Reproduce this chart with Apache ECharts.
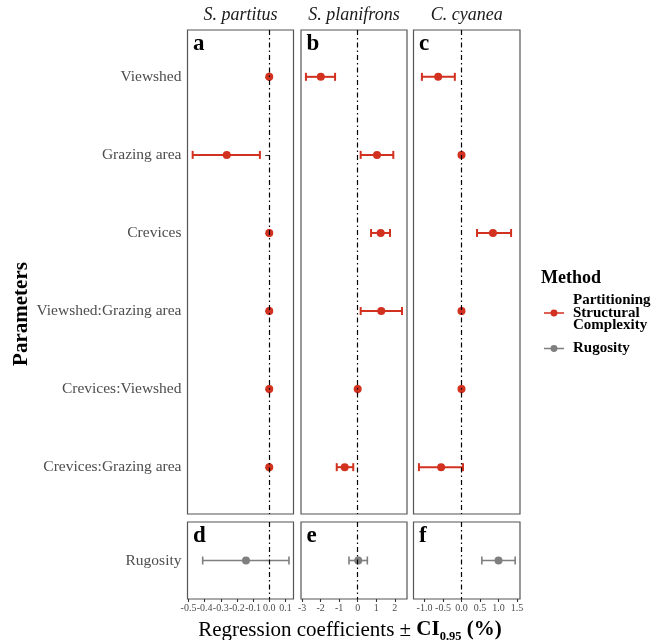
<!DOCTYPE html>
<html><head><meta charset="utf-8">
<script src="https://cdn.jsdelivr.net/npm/echarts@6/dist/echarts.min.js"></script>
<style>html,body{margin:0;padding:0;background:#fff}#c{width:655px;height:640px}</style>
</head><body><div id="c"></div>
<script>
const panelTitles = ['S. partitus', 'S. planifrons', 'C. cyanea'];
const panelLetters = [['a', 'b', 'c'], ['d', 'e', 'f']];
const parameters = ['Viewshed', 'Grazing area', 'Crevices', 'Viewshed:Grazing area', 'Crevices:Viewshed', 'Crevices:Grazing area'];
const paramIndex = [1, 2, 3, 4, 5, 6];

const partitusEst  = [0.000, -0.263, 0.000, 0.000, 0.000, 0.000];
const partitusLow  = [-0.002, -0.474, -0.002, -0.002, -0.002, -0.002];
const partitusHigh = [0.002, -0.058, 0.002, 0.002, 0.002, 0.002];

const planifronsEst  = [-1.99, 1.04, 1.24, 1.27, 0.00, -0.70];
const planifronsLow  = [-2.79, 0.16, 0.72, 0.16, -0.02, -1.13];
const planifronsHigh = [-1.22, 1.92, 1.74, 2.39, 0.02, -0.24];

const cyaneaEst  = [-0.63, 0.00, 0.85, 0.00, 0.00, -0.55];
const cyaneaLow  = [-1.07, -0.01, 0.42, -0.01, -0.01, -1.15];
const cyaneaHigh = [-0.18, 0.01, 1.34, 0.01, 0.01, 0.04];

const rugosityLabel = ['Rugosity'];
const rugosityEst  = [-0.144, 0.03, 1.00];
const rugosityLow  = [-0.412, -0.47, 0.55];
const rugosityHigh = [0.122, 0.52, 1.45];

const xTicks = [[-0.5, -0.4, -0.3, -0.2, -0.1, 0, 0.1], [-3, -2, -1, 0, 1, 2], [-1, -0.5, 0, 0.5, 1, 1.5]];
const xTickDecimals = [1, 0, 1];
const xRanges = [[-0.506, 0.150], [-3.057, 2.658], [-1.297, 1.581]];

const methodNames = ['Partitioning\nStructural\nComplexity', 'Rugosity'];
const RED = '#D3311F', GREY = '#7F7F7F';
const FONT = "'Liberation Serif', 'DejaVu Serif', serif";

const topEst = [partitusEst, planifronsEst, cyaneaEst];
const topLow = [partitusLow, planifronsLow, cyaneaLow];
const topHigh = [partitusHigh, planifronsHigh, cyaneaHigh];

const colLeft = [187.5, 301, 413.5];
const colWidth = [106, 106, 106.5];
const rowTop = [30, 522];
const rowHeight = [484, 77];

function errRender(color, lw) {
  return function (params, api) {
    const y = api.value(0), lo = api.value(1), hi = api.value(2);
    const p1 = api.coord([lo, y]), p2 = api.coord([hi, y]);
    const h = 4;
    const st = { stroke: color, lineWidth: lw };
    return { type: 'group', children: [
      { type: 'line', shape: { x1: p1[0], y1: p1[1], x2: p2[0], y2: p2[1] }, style: st },
      { type: 'line', shape: { x1: p1[0], y1: p1[1] - h, x2: p1[0], y2: p1[1] + h }, style: st },
      { type: 'line', shape: { x1: p2[0], y1: p2[1] - h, x2: p2[0], y2: p2[1] + h }, style: st }
    ] };
  };
}

const grid = [], xAxis = [], yAxis = [], series = [];
for (let r = 0; r < 2; r++) {
  for (let c = 0; c < 3; c++) {
    const idx = r * 3 + c;
    grid.push({ left: colLeft[c], width: colWidth[c], top: rowTop[r], height: rowHeight[r],
      show: true, borderColor: '#555', borderWidth: 1.2, backgroundColor: '#fff' });
    xAxis.push({
      type: 'value', gridIndex: idx, min: xRanges[c][0], max: xRanges[c][1], show: r === 1,
      axisLine: { show: false }, splitLine: { show: false },
      axisTick: { show: true, length: 3, customValues: xTicks[c], lineStyle: { color: '#333', width: 1.1 } },
      axisLabel: { customValues: xTicks[c], formatter: v => v.toFixed(xTickDecimals[c]),
        fontFamily: FONT, fontSize: 10, color: '#4d4d4d', margin: 4 }
    });
    const yVals = r === 0 ? paramIndex : [1];
    const yNames = r === 0 ? parameters : rugosityLabel;
    yAxis.push({
      type: 'value', gridIndex: idx, inverse: true, min: 0.4, max: r === 0 ? 6.6 : 1.6,
      show: c === 0, axisLine: { show: false }, splitLine: { show: false },
      axisTick: { show: true, length: 4, customValues: yVals, lineStyle: { color: '#333', width: 1.1 } },
      axisLabel: { customValues: yVals, formatter: v => yNames[Math.round(v) - 1],
        fontFamily: FONT, fontSize: 15.5, color: '#4d4d4d', margin: 6 }
    });
    let est, lo, hi, ys, color, name;
    if (r === 0) { est = topEst[c]; lo = topLow[c]; hi = topHigh[c]; ys = paramIndex; color = RED; name = methodNames[0]; }
    else { est = [rugosityEst[c]]; lo = [rugosityLow[c]]; hi = [rugosityHigh[c]]; ys = [1]; color = GREY; name = methodNames[1]; }
    series.push({
      type: 'custom', name: name, xAxisIndex: idx, yAxisIndex: idx, z: 2,
      renderItem: errRender(color, r === 0 ? 2 : 1.6),
      encode: { x: [1, 2], y: 0 },
      data: ys.map((y, i) => [y, lo[i], hi[i]]),
      markLine: { silent: true, symbol: 'none', label: { show: false },
        lineStyle: { color: '#000', width: 1.2, type: [5, 3, 1.5, 3] }, data: [{ xAxis: 0 }] }
    });
    series.push({
      type: 'scatter', name: name, xAxisIndex: idx, yAxisIndex: idx, z: 3,
      symbol: 'circle', symbolSize: 8, itemStyle: { color: color, opacity: 1 },
      data: ys.map((y, i) => [est[i], y])
    });
  }
}

const graphic = [];
for (let c = 0; c < 3; c++) {
  graphic.push({ type: 'text', x: colLeft[c] + colWidth[c] / 2, y: 15,
    style: { text: panelTitles[c], font: "italic 18px " + FONT, fill: '#1a1a1a', align: 'center', verticalAlign: 'middle' } });
  for (let r = 0; r < 2; r++) {
    graphic.push({ type: 'text', x: colLeft[c] + 5.5, y: rowTop[r] + 14,
      style: { text: panelLetters[r][c], font: "bold 23px " + FONT, fill: '#000', align: 'left', verticalAlign: 'middle' } });
  }
}
graphic.push({ type: 'text', x: 350, y: 630,
  style: { text: '{n|Regression coefficients ± }{b|CI}{s|0.95}{b| (%)}', align: 'center', verticalAlign: 'middle',
    rich: {
      n: { font: "21px " + FONT, fill: '#000', lineHeight: 26, verticalAlign: 'middle' },
      b: { font: "bold 21px " + FONT, fill: '#000', lineHeight: 26, verticalAlign: 'middle' },
      s: { font: "bold 12.5px " + FONT, fill: '#000', lineHeight: 26, verticalAlign: 'bottom' }
    } } });
graphic.push({ type: 'text', x: 22, y: 314, rotation: Math.PI / 2,
  style: { text: 'Parameters', font: "bold 21px " + FONT, fill: '#000', align: 'center', verticalAlign: 'middle' } });
graphic.push({ type: 'text', x: 541, y: 278,
  style: { text: 'Method', font: "bold 18px " + FONT, fill: '#000', align: 'left', verticalAlign: 'middle' } });

const legendIcon = 'path://M0,9H22V10.8H0Z M7.2,9.9A3.8,3.8 0 1,1 14.8,9.9A3.8,3.8 0 1,1 7.2,9.9Z';

const chart = echarts.init(document.getElementById('c'));
chart.setOption({
  animation: false,
  backgroundColor: '#fff',
  grid, xAxis, yAxis, series, graphic,
  legend: {
    orient: 'vertical', left: 544, top: 293, padding: 0, itemWidth: 20, itemHeight: 8, itemGap: 8,
    selectedMode: false,
    data: [
      { name: methodNames[0], icon: legendIcon, itemStyle: { color: RED } },
      { name: methodNames[1], icon: legendIcon, itemStyle: { color: GREY } }
    ],
    textStyle: { fontFamily: FONT, fontWeight: 'bold', fontSize: 15, color: '#000', lineHeight: 12.5, padding: [0, 0, 0, 4] }
  }
});
</script>
</body></html>
